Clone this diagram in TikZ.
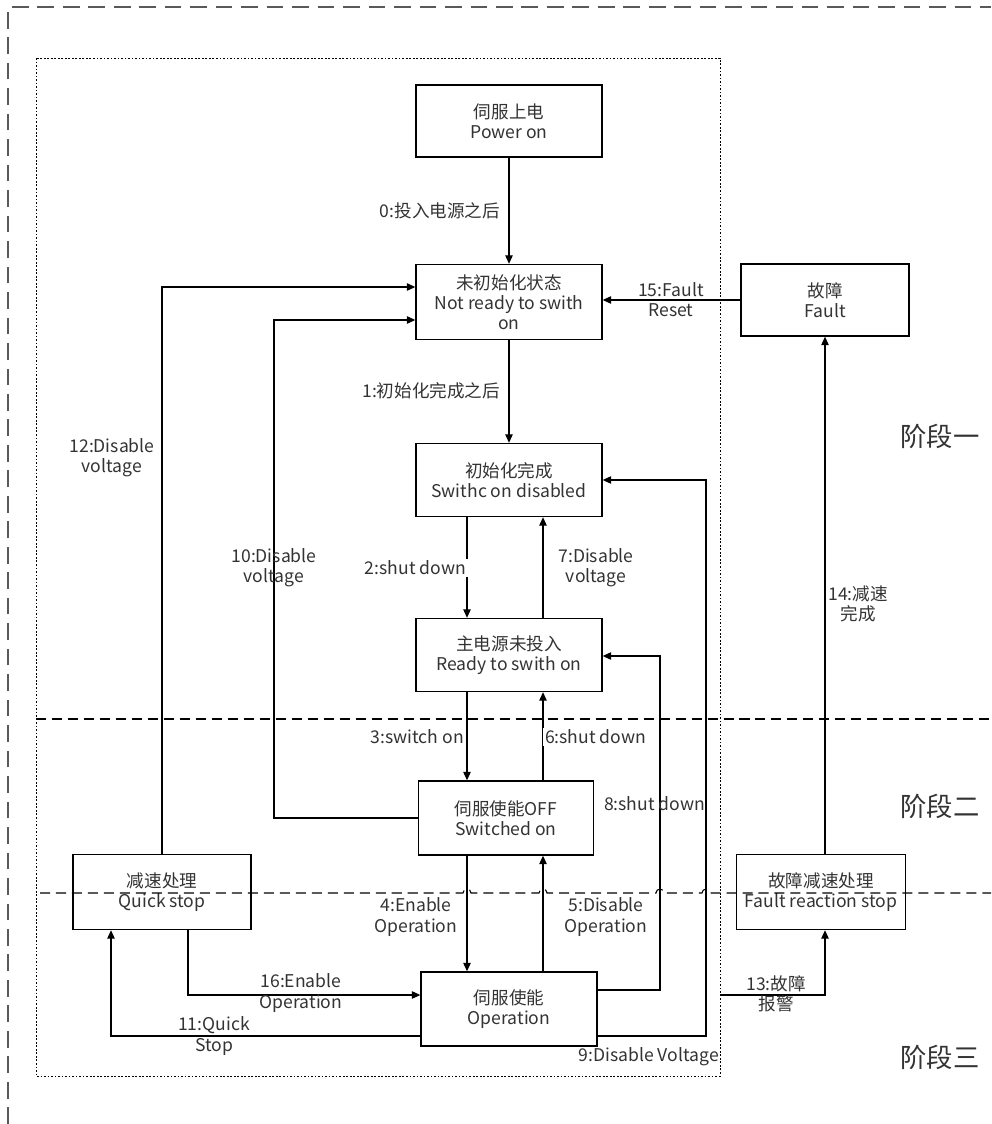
\documentclass[tikz,border=0pt]{standalone}
\usepackage{fontspec}
\setmainfont{Noto Sans CJK SC}
\usepackage{tikz}
\usetikzlibrary{arrows.meta,calc}

\begin{document}
\begin{tikzpicture}[
  x=0.02cm, y=-0.02cm,
  font=\fontsize{10}{11.5}\selectfont, >={Triangle[length=1.7mm,width=1.5mm]},
  state/.style={draw, line width=0.8pt, align=center, text=black!80, inner sep=1pt},
  lab/.style={align=center, text=black!80, inner sep=1pt},
  wlab/.style={lab, fill=white},
  phase/.style={font=\fontsize{15}{18}\selectfont, text=black!80},
  link/.style={->, line width=0.6pt},
  stage/.style={line width=0.6pt, dash pattern=on 5.7pt off 3.4pt},
]
\useasboundingbox (0,0) rectangle (991,1124);

% ---------- frames ----------
\draw[black!65, line width=0.8pt, dash pattern=on 9.5pt off 5pt] (8,1124) -- (8,7) -- (991,7);
\draw[line width=0.5pt, dash pattern=on 1pt off 1pt] (36,58) rectangle (720,1076);

% ---------- states ----------
\node[state, minimum width=3.72cm, minimum height=1.44cm] (pwr)  at (509,121)  {伺服上电\\Power on};
\node[state, minimum width=3.72cm, minimum height=1.50cm] (nrdy) at (509,302)  {未初始化状态\\Not ready to swith\\on};
\node[state, minimum width=3.72cm, minimum height=1.46cm] (sdis) at (509,480)  {初始化完成\\Swithc on disabled};
\node[state, minimum width=3.72cm, minimum height=1.46cm] (rdy)  at (509,655)  {主电源未投入\\Ready to swith on};
\node[state, minimum width=3.50cm, minimum height=1.48cm] (son)  at (506,818)  {伺服使能OFF\\Switched on};
\node[state, minimum width=3.52cm, minimum height=1.48cm] (op)   at (509,1009) {伺服使能\\Operation};
\node[state, minimum width=3.56cm, minimum height=1.50cm] (qs)   at (162,892)  {减速处理\\Quick stop};
\node[state, minimum width=3.36cm, minimum height=1.44cm] (flt)  at (825,300)  {故障\\Fault};
\node[state, minimum width=3.38cm, minimum height=1.50cm] (frs)  at (821,892)  {故障减速处理\\Fault reaction stop};

% ---------- phases ----------
\draw[stage] (36,719) -- (991,719);
\draw[stage] (40,893) -- (463,893) arc[start angle=180, end angle=360, radius=4]
  -- (539,893) arc[start angle=180, end angle=360, radius=4]
  -- (656,893) arc[start angle=180, end angle=360, radius=4]
  -- (702,893) arc[start angle=180, end angle=360, radius=4] -- (991,893);
\node[phase] (ph1) at (940,436)  {阶段一};
\node[phase] (ph2) at (940,806)  {阶段二};
\node[phase] (ph3) at (940,1057) {阶段三};

% ---------- transitions ----------
\coordinate (cL) at (467,0);
\coordinate (cR) at (543,0);
\draw[link] (pwr.south) -- (nrdy.north);
\draw[link] (nrdy.south) -- (sdis.north);
\draw[link] (sdis.south -| cL) -- (rdy.north -| cL);
\draw[link] (rdy.north -| cR) -- (sdis.south -| cR);
\draw[link] (rdy.south -| cL) -- (son.north -| cL);
\draw[link] (son.north -| cR) -- (rdy.south -| cR);
\draw[link] (son.south -| cL) -- (op.north -| cL);
\draw[link] (op.north -| cR) -- (son.south -| cR);

\coordinate (k8) at (660,990);
\coordinate (k9) at (706,1036);
\coordinate (k10) at (274,320);
\coordinate (k12) at (162,287);
\coordinate (k11) at (111,1036);
\coordinate (k16) at (188,995);
\coordinate (s13) at (720,995);
\draw[link] (op.east |- k8) -- (k8) -- (660,656) -- (rdy.east |- 0,656);
\draw[link] (op.east |- k9) -- (k9) -- (706,480) -- (sdis.east |- 0,480);
\draw[link] (son.west) -- (son.west -| k10) -- (k10) -- (nrdy.west |- k10);
\draw[link] (qs.north) -- (k12) -- (nrdy.west |- k12);
\draw[link] (op.west |- k11) -- (k11) -- (qs.south -| k11);
\draw[link] (qs.south -| k16) -- (k16) -- (op.west |- k16);
\draw[link] (s13) -| (frs.south -| flt.south);
\draw[link] (frs.north -| flt.south) -- (flt.south);
\draw[link] (flt.west) -- (nrdy.east |- flt.west);

% ---------- labels ----------
\node[lab, anchor=east]  (l0)  at (502,211)  {0:投入电源之后};
\node[lab, anchor=east]  (l1)  at (502,391)  {1:初始化完成之后};
\node[wlab, anchor=east] (l2)  at (468,568)  {2:shut down};
\node[lab]  (l7)  at (596,568)  {7:Disable\\voltage};
\node[wlab, anchor=east] (l3)  at (466,737)  {3:switch on};
\node[wlab, anchor=west] (l6)  at (543,737)  {6:shut down};
\node[lab]  (l4)  at (416,917)  {4:Enable\\Operation};
\node[lab]  (l5)  at (606,917)  {5:Disable\\Operation};
\node[lab, anchor=west]  (l8)  at (602,804)  {8:shut down};
\node[lab, anchor=east]  (l9)  at (721,1057) {9:Disable Voltage};
\node[lab]  (l10) at (274,568)  {10:Disable\\voltage};
\node[lab]  (l12) at (112,458)  {12:Disable\\voltage};
\node[lab]  (l11) at (214,1036) {11:Quick\\Stop};
\node[lab]  (l16) at (301,993)  {16:Enable\\Operation};
\node[lab]  (l13) at (776,994)  {13:故障\\报警};
\node[lab]  (l14) at (858,604)  {14:减速\\完成};
\node[lab]  (l15) at (671,300)  {15:Fault\\Reset};
\end{tikzpicture}
\end{document}
